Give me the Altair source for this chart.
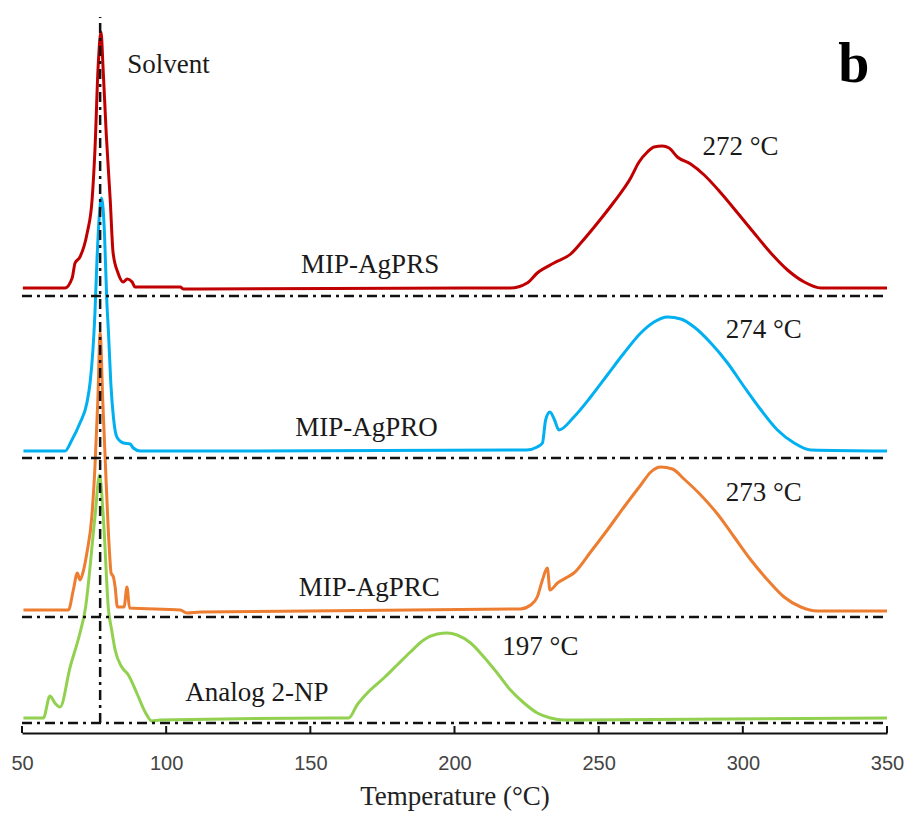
import altair as alt
import pandas as pd

# ---------------- data (temperature in °C, signal in a.u., stacked offsets) ----------------
series_names = ["MIP-AgPRS", "MIP-AgPRO", "MIP-AgPRC", "Analog 2-NP"]
series_colors = ["#c00000", "#00b0f0", "#ed7d31", "#92d050"]

red_t = [50.3, 64.9, 67.4, 68.4, 70.1, 72.6, 74.3, 75.3, 76.4, 77.4, 78.1, 79.2, 80.6, 81.6,
         83.3, 85.1, 86.5, 88.2, 89.2, 104.9, 105.9, 209.0, 219.4, 225.2, 228.7, 234.5, 240.3,
         243.8, 249.6, 255.3, 261.1, 264.0, 266.9, 269.2, 272.1, 274.4, 277.3, 281.9, 286.6,
         292.4, 298.2, 303.9, 309.7, 315.5, 321.3, 327.1, 350.0]
red_s = [445, 445, 455, 470, 476, 500, 533, 583, 666, 701, 666, 600, 533, 480,
         460, 451, 454, 451, 446, 446, 444, 445, 445, 450, 460, 470, 479,
         490, 510, 531, 555, 571, 581, 586, 587, 585, 576, 569, 558,
         540, 520, 500, 480, 463, 451, 445, 445]

blue_t = [50.5, 64.9, 67.3, 70.1, 72.5, 73.6, 74.6, 75.3, 76.0, 77.6, 78.6, 79.4, 80.0, 80.8,
          81.7, 82.9, 85.2, 87.5, 88.6, 91.0, 225.0, 228.7, 230.5, 231.6, 233.1, 234.7, 236.2,
          241.4, 247.2, 253.0, 258.8, 264.6, 269.2, 273.9, 278.5, 283.1, 288.9, 294.7, 300.5,
          306.3, 312.0, 317.8, 323.6, 350.0]
blue_s = [282, 282, 293, 310, 330, 350, 383, 420, 473, 535, 500, 433, 400, 350,
          316, 296, 290, 289, 285, 282, 283, 286, 290, 313, 321, 313, 303,
          316, 336, 358, 380, 400, 411, 416, 414, 406, 390, 370, 346,
          323, 303, 290, 283, 282]

orange_t = [50.5, 66.1, 67.8, 69.2, 70.1, 71.1, 72.5, 74.2, 75.3, 76.3, 77.1, 78.0, 79.2, 80.3,
            80.9, 81.7, 82.3, 83.1, 85.4, 86.4, 87.3, 104.9, 107.2, 111.8, 222.9, 226.4, 228.7,
            230.5, 232.2, 233.1, 235.7, 239.2, 241.4, 247.2, 253.0, 258.8, 264.6, 268.1, 271.5,
            275.6, 279.6, 285.4, 291.2, 297.0, 302.8, 308.6, 314.3, 320.1, 325.9, 350.0]
orange_s = [123, 123, 143, 160, 153, 160, 180, 216, 266, 333, 400, 333, 250, 183,
            160, 156, 146, 126, 126, 146, 125, 123, 120, 121, 124, 128, 136,
            153, 165, 143, 150, 156, 160, 181, 203, 226, 248, 261, 266,
            264, 254, 238, 219, 196, 173, 153, 136, 126, 122, 122]

green_t = [50.5, 57.4, 59.7, 61.4, 63.2, 66.7, 70.1, 71.9, 75.3, 76.9, 78.2, 80.0, 81.1, 82.3,
           84.6, 86.9, 89.8, 92.7, 95.0, 97.9, 156.9, 163.3, 166.2, 170.8, 175.5, 180.1, 184.7,
           189.3, 194.0, 197.5, 200.9, 205.6, 210.2, 214.8, 219.4, 224.1, 228.7, 233.3, 237.9,
           350.0]
green_s = [15, 15, 37, 30, 26, 66, 100, 123, 216, 258, 216, 123, 103, 83,
           66, 58, 40, 21, 12, 13, 15, 15, 28, 43, 55, 68, 81,
           93, 99, 100, 98, 90, 76, 60, 43, 30, 20, 15, 13,
           15]

# dash-dot reference baselines (one per trace) and solvent marker
baseline_levels = [437, 275, 116, 10]
solvent_temp = 77.1

# annotations
label_text = ["Solvent", "MIP-AgPRS", "MIP-AgPRO", "MIP-AgPRC", "Analog 2-NP",
              "272 °C", "274 °C", "273 °C", "197 °C"]
label_t = [86.5, 146.8, 144.8, 146.0, 106.6, 286.0, 294.1, 294.1, 216.6]
label_s = [668, 468, 305, 145, 40, 586, 403, 240, 86]

tick_values = [50, 100, 150, 200, 250, 300, 350]

# ---------------- build tables ----------------
rows = []
for name, ts, ss in zip(series_names, [red_t, blue_t, orange_t, green_t],
                        [red_s, blue_s, orange_s, green_s]):
    for i, (t, s) in enumerate(zip(ts, ss)):
        rows.append({"series": name, "T": t, "S": s, "i": i})
df = pd.DataFrame(rows)

base_df = pd.DataFrame({"y0": baseline_levels, "x0": [50] * 4, "x1": [350] * 4})
vert_df = pd.DataFrame({"x0": [solvent_temp], "y0": [baseline_levels[-1]], "y1": [716]})
lab_df = pd.DataFrame({"text": label_text, "T": label_t, "S": label_s})
tick_df = pd.DataFrame({"T": tick_values, "yb": [0] * len(tick_values), "yt": [7] * len(tick_values)})
b_df = pd.DataFrame({"text": ["b"], "T": [338.5], "S": [651]})

xscale = alt.Scale(domain=[50, 350], nice=False, zero=False)
yscale = alt.Scale(domain=[0, 716], nice=False, zero=False)
xaxis = alt.Axis(values=tick_values, title="Temperature (°C)", grid=False, tickSize=0,
                 labelPadding=20, format="d", labelFlush=False)

serif = "Liberation Serif"

lines = alt.Chart(df).mark_line(strokeWidth=3, interpolate="monotone").encode(
    x=alt.X("T:Q", scale=xscale, axis=xaxis),
    y=alt.Y("S:Q", scale=yscale, axis=None),
    color=alt.Color("series:N", scale=alt.Scale(domain=series_names, range=series_colors), legend=None),
    order=alt.Order("i:Q"),
)

baselines = alt.Chart(base_df).mark_rule(color="#111111", strokeWidth=2.5, strokeDash=[10, 5, 3, 5]).encode(
    x=alt.X("x0:Q", scale=xscale, axis=xaxis),
    x2="x1:Q",
    y=alt.Y("y0:Q", scale=yscale, axis=None),
)

vline = alt.Chart(vert_df).mark_rule(color="#111111", strokeWidth=2.5, strokeDash=[10, 5, 3, 5]).encode(
    x=alt.X("x0:Q", scale=xscale, axis=xaxis),
    y=alt.Y("y0:Q", scale=yscale, axis=None),
    y2="y1:Q",
)

ticks = alt.Chart(tick_df).mark_rule(color="#111111", strokeWidth=2).encode(
    x=alt.X("T:Q", scale=xscale, axis=xaxis),
    y=alt.Y("yb:Q", scale=yscale, axis=None),
    y2="yt:Q",
)

labels = alt.Chart(lab_df).mark_text(font=serif, fontSize=27, align="left", baseline="middle",
                                      color="#1a1a1a").encode(
    x=alt.X("T:Q", scale=xscale, axis=xaxis),
    y=alt.Y("S:Q", scale=yscale, axis=None),
    text="text:N",
)

bmark = alt.Chart(b_df).mark_text(font=serif, fontSize=56, fontWeight="bold", align="center",
                                   baseline="alphabetic", color="#000000").encode(
    x=alt.X("T:Q", scale=xscale, axis=xaxis),
    y=alt.Y("S:Q", scale=yscale, axis=None),
    text="text:N",
)

chart = alt.layer(lines, baselines, vline, ticks, labels, bmark).properties(
    width=865,
    height=716,
    autosize=alt.AutoSizeParams(type="none"),
    padding={"left": 22, "top": 17, "right": 21, "bottom": 86},
).configure_view(stroke=None).configure_axis(
    domainColor="#111111",
    domainWidth=2,
    labelFont="Liberation Sans",
    labelFontSize=20,
    labelColor="#444444",
    titleFont=serif,
    titleFontSize=27,
    titleFontWeight="normal",
    titleColor="#222222",
    titlePadding=10,
)

chart.save("out.html", embed_options={"renderer": "svg", "actions": False})
